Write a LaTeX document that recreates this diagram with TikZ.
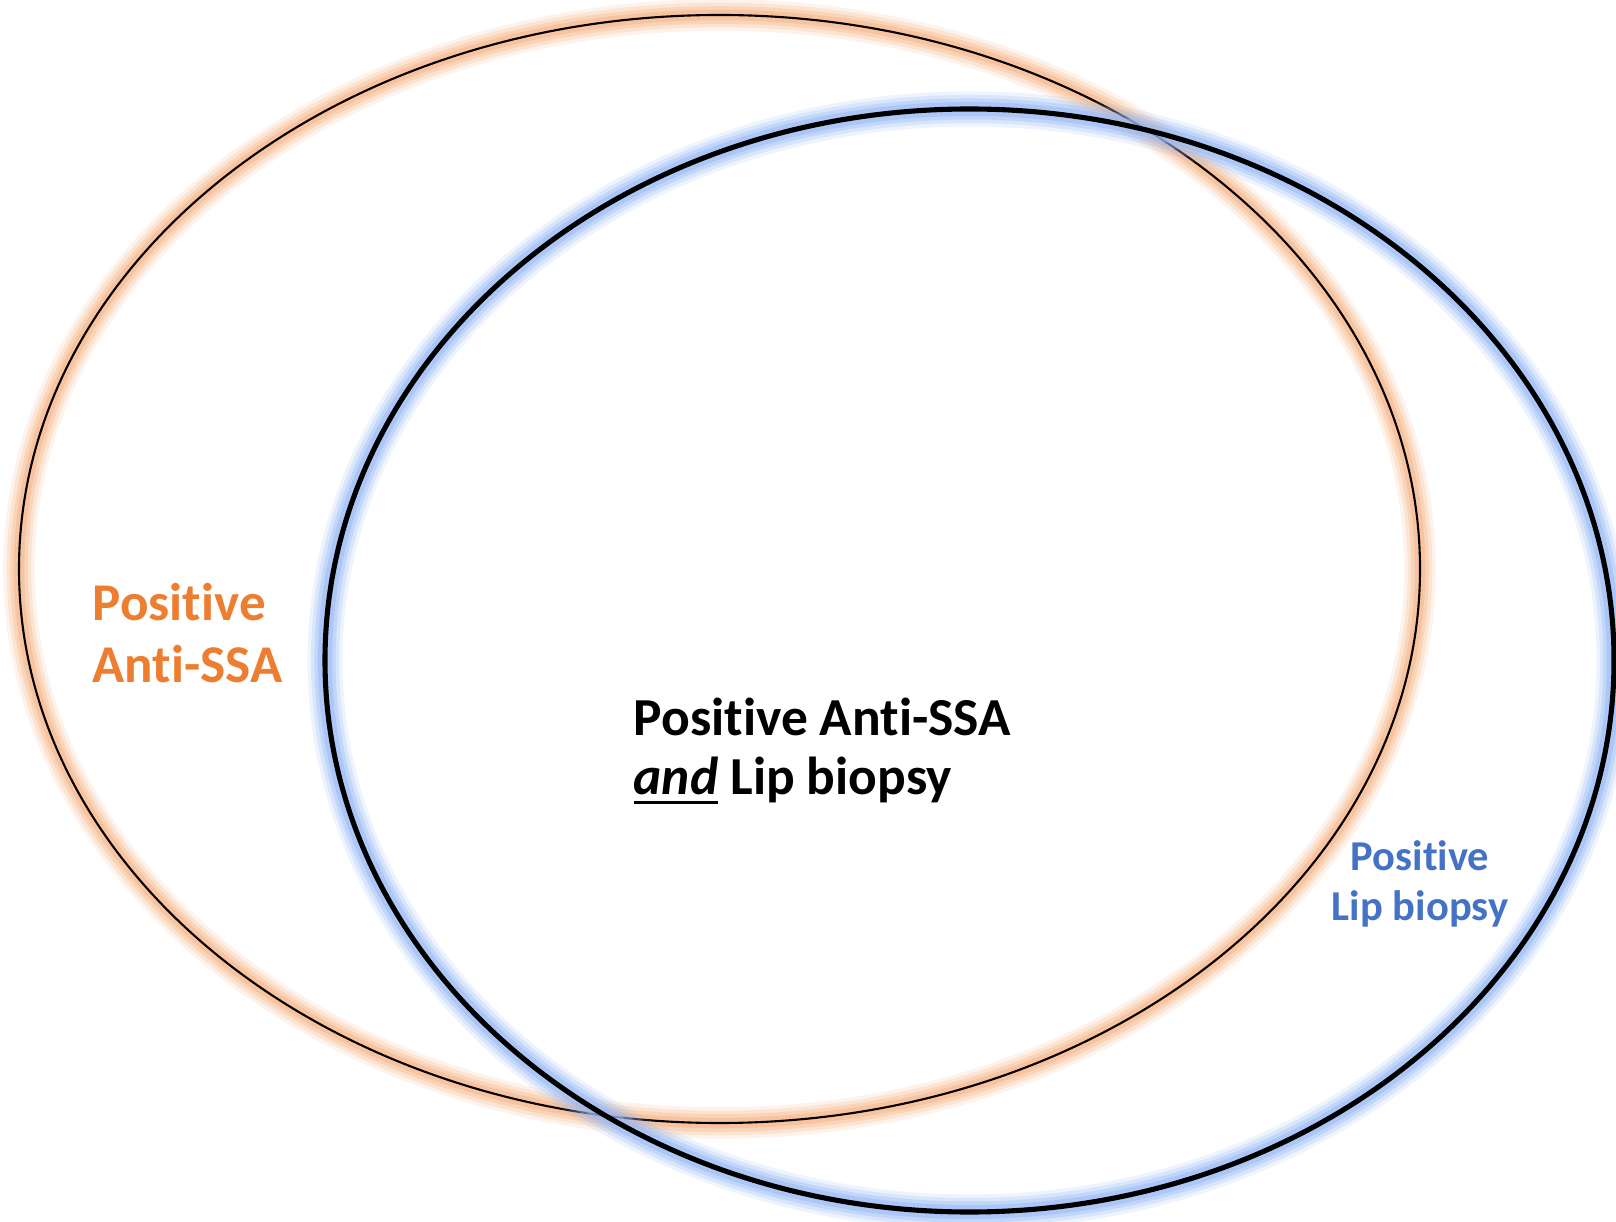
\documentclass[tikz,border=0pt]{standalone}
\usepackage{fontspec}
\setmainfont{Carlito}[Ligatures=NoCommon]
\usetikzlibrary{positioning}
\definecolor{ssaorange}{RGB}{237,125,49}
\definecolor{lipblue}{RGB}{68,114,196}
\definecolor{ssaglow}{RGB}{245,175,125}
\definecolor{lipglow}{RGB}{150,184,245}
\newcommand\andline[1]{\setbox0\hbox{#1}\rlap{\rule[-2.5pt]{\wd0}{0.7pt}}\box0\relax}

\begin{document}
\begin{tikzpicture}[x=0.01cm,y=0.01cm,
    glow/.style={line width=#1, line cap=round},
    setlabel/.style={inner sep=0pt, font=\bfseries}]

  \useasboundingbox (0,0) rectangle (1616,1221);

  %-------------------- Anti-SSA --------------------
  \foreach \w/\o in {9pt/0.15,7pt/0.22,5pt/0.3,3pt/0.45}{
    \draw[glow=\w, ssaglow, draw opacity=\o]
      (719.5,652) ellipse [x radius=700.5, y radius=554];
  }
  \draw[line width=0.6pt] (719.5,652) ellipse [x radius=700.5, y radius=554];

  %-------------------- Lip biopsy --------------------
  \foreach \w/\o in {10pt/0.16,8pt/0.24,6pt/0.35,4pt/0.5}{
    \draw[glow=\w, lipglow, draw opacity=\o]
      (969.5,560.5) ellipse [x radius=644.5, y radius=551.5];
  }
  \draw[line width=1.45pt] (969.5,560.5) ellipse [x radius=644.5, y radius=551.5];

  % Opisy
  \node[setlabel, ssaorange, align=left, anchor=base west,
        font=\bfseries\fontsize{15.1}{17.9}\selectfont] (ssa) at (92,538)
    {Positive\\Anti-SSA};

  \node[setlabel, align=left, anchor=base west,
        font=\bfseries\fontsize{15.2}{16.8}\selectfont] (both) at (633,426)
    {Positive Anti-SSA\\\andline{\textit{and}} Lip biopsy};

  \node[setlabel, lipblue, align=center, anchor=base,
        font=\bfseries\fontsize{12.1}{14.2}\selectfont] (lip) at (1420,301)
    {Positive\\Lip biopsy};

\end{tikzpicture}
\end{document}
